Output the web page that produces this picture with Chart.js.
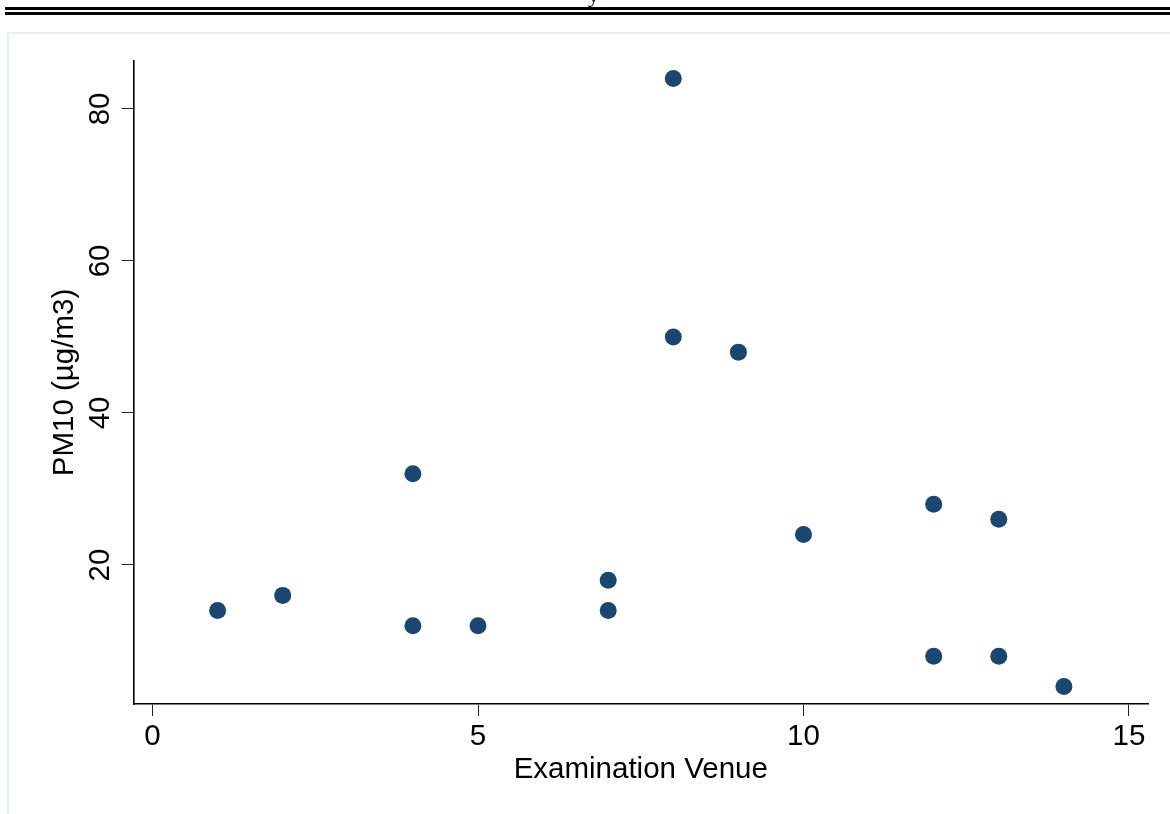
<!DOCTYPE html>
<html>
<head>
<meta charset="utf-8">
<title>PM10 by Examination Venue</title>
<script src="https://cdn.jsdelivr.net/npm/chart.js@4.4.0/dist/chart.umd.min.js"></script>
<style>
    html, body { margin: 0; padding: 0; background: #fff; overflow: hidden; }
    body { width: 1170px; height: 814px; position: relative; }
    .cut-text { position: absolute; left: 588px; top: -16px; font-family: "Liberation Serif", serif; font-size: 22px; line-height: 22px; color: #000; }
    .rule-thick { position: absolute; left: 5px; right: 0; top: 7px; height: 3px; background: #000; }
    .rule-thin { position: absolute; left: 5px; right: 0; top: 12px; height: 3px; background: #000; }
    .frame { position: absolute; left: 7px; top: 32px; width: 1200px; height: 900px; border: 2px solid #e6eef2; }
    #chart { position: absolute; left: 0; top: 0; }
</style>
</head>
<body>
<span class="cut-text">y</span>
<div class="rule-thick"></div>
<div class="rule-thin"></div>
<div class="frame"></div>
<canvas id="chart" width="1170" height="814"></canvas>
<script>
// Datos
const venue = [1, 2, 4, 4, 5, 7, 7, 8, 8, 9, 10, 12, 12, 13, 13, 14];
const pm10 = [14, 16, 32, 12, 12, 18, 14, 84, 50, 48, 24, 28, 8, 26, 8, 4];
const xTicks = [0, 5, 10, 15];
const yTicks = [20, 40, 60, 80];

const fontFamily = '"Liberation Sans", Arial, sans-serif';
const fontSize = 29.5;

// Etiquetas del eje Y giradas, centradas en cada marca
const rotatedYLabels = {
    id: 'rotatedYLabels',
    afterDraw(chart) {
        const ctx = chart.ctx;
        const yScale = chart.scales.y;
        ctx.save();
        ctx.font = fontSize + 'px ' + fontFamily;
        ctx.fillStyle = '#000';
        ctx.textAlign = 'center';
        ctx.textBaseline = 'middle';
        yTicks.forEach(v => {
            ctx.save();
            ctx.translate(101, yScale.getPixelForValue(v));
            ctx.rotate(-Math.PI / 2);
            ctx.fillText(String(v), 0, 0);
            ctx.restore();
        });
        ctx.restore();
    }
};

new Chart(document.getElementById('chart'), {
    type: 'scatter',
    data: {
        datasets: [{
            data: venue.map((v, i) => ({ x: v, y: pm10[i] })),
            backgroundColor: '#1a476f',
            borderWidth: 0,
            pointRadius: 8.5,
            pointHoverRadius: 8.5
        }]
    },
    options: {
        responsive: false,
        animation: false,
        layout: { padding: { top: 61, right: 22, left: 0, bottom: 0 } },
        plugins: {
            legend: { display: false },
            tooltip: { enabled: false }
        },
        scales: {
            x: {
                type: 'linear',
                position: 'bottom',
                min: -0.292,
                max: 15.292,
                afterBuildTicks: s => { s.ticks = xTicks.map(v => ({ value: v })); },
                afterFit: s => { s.height = 110; },
                border: { display: true, color: '#000', width: 1.6 },
                grid: { drawOnChartArea: false, drawTicks: true, tickLength: 12, color: '#222', lineWidth: 1 },
                ticks: { color: '#000', padding: 3, font: { family: fontFamily, size: fontSize } },
                title: {
                    display: true,
                    text: 'Examination Venue',
                    color: '#000',
                    font: { family: fontFamily, size: fontSize },
                    padding: { top: 0, bottom: 26 }
                }
            },
            y: {
                type: 'linear',
                position: 'left',
                min: 1.71,
                max: 86.3,
                afterBuildTicks: s => { s.ticks = yTicks.map(v => ({ value: v })); },
                afterFit: s => { s.width = 133.5; },
                border: { display: true, color: '#000', width: 1.6 },
                grid: { drawOnChartArea: false, drawTicks: true, tickLength: 12, color: '#222', lineWidth: 1 },
                ticks: { display: false },
                title: {
                    display: true,
                    text: 'PM10 (µg/m3)',
                    color: '#000',
                    font: { family: fontFamily, size: fontSize },
                    padding: { top: 47, bottom: 0 }
                }
            }
        }
    },
    plugins: [rotatedYLabels]
});
</script>
</body>
</html>
